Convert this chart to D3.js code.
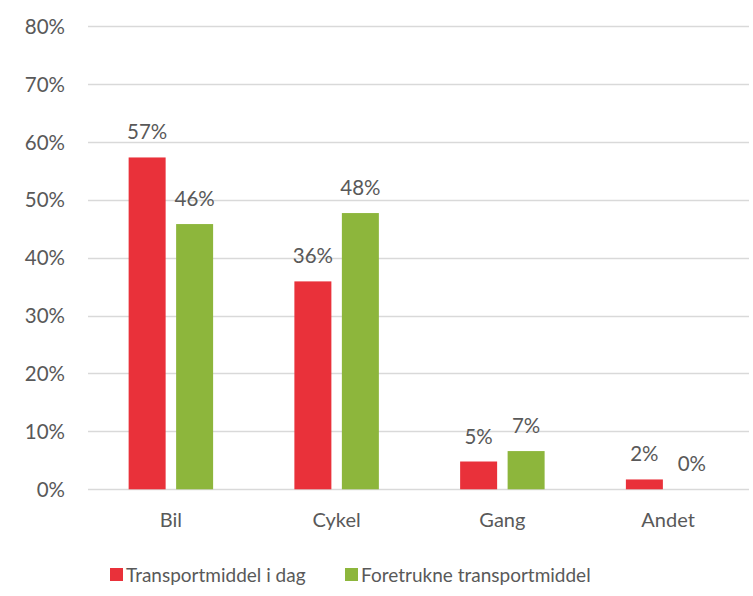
<!DOCTYPE html>
<html><head><meta charset="utf-8">
<script src="https://cdn.jsdelivr.net/npm/d3@7"></script>
<style>
html,body{margin:0;padding:0;background:#fff;}
text{font-family:Lato,"Open Sans",sans-serif;fill:#595959;}
</style></head>
<body>
<svg id="chart" width="753" height="596"></svg>
<script>
const categories = ["Bil", "Cykel", "Gang", "Andet"];
const seriesNames = ["Transportmiddel i dag", "Foretrukne transportmiddel"];
const todayValues = [0.573, 0.359, 0.048, 0.017];
const preferredValues = [0.458, 0.477, 0.066, 0.0];
const todayLabels = ["57%", "36%", "5%", "2%"];
const preferredLabels = ["46%", "48%", "7%", "0%"];
const yTicks = [0, 0.1, 0.2, 0.3, 0.4, 0.5, 0.6, 0.7, 0.8];
const colors = ["#E9313A", "#8DB63C"];

const svg = d3.select("#chart");
const y = d3.scaleLinear().domain([0, 0.8]).range([489.3, 26]);
const x = d3.scaleBand().domain(categories).range([88, 751]).padding(0);
const bw = x.bandwidth();
const barW = bw * 0.2232;
const gap = bw * 0.0633;

// gridlines
svg.append("g").selectAll("line").data(yTicks).join("line")
  .attr("x1", 88).attr("x2", 749)
  .attr("y1", d => Math.round(y(d)) + 0.5).attr("y2", d => Math.round(y(d)) + 0.5)
  .attr("stroke", "#d9d9d9").attr("stroke-width", 1.4);

// y axis labels
const yAxis = d3.axisLeft(y).tickValues(yTicks).tickFormat(d3.format(".0%")).tickSize(0).tickPadding(0);
const gy = svg.append("g").attr("transform", "translate(65,0)").call(yAxis);
gy.select(".domain").remove();
gy.selectAll("text").attr("font-size", 20.5).attr("fill", "#595959").style("font-family", "Lato,'Open Sans',sans-serif").attr("dy", "0.35em");

// x axis labels
const xAxis = d3.axisBottom(x).tickSize(0).tickPadding(0);
const gx = svg.append("g").attr("transform", "translate(0,520)").call(xAxis);
gx.select(".domain").remove();
gx.selectAll("text").attr("font-size", 20).attr("fill", "#595959").style("font-family", "Lato,'Open Sans',sans-serif").attr("dy", "0.35em");

const series = [
  {vals: todayValues, labels: todayLabels, off: -gap/2 - barW, color: colors[0]},
  {vals: preferredValues, labels: preferredLabels, off: gap/2, color: colors[1]}
];
series.forEach(s => {
  const g = svg.append("g");
  g.selectAll("rect").data(categories).join("rect")
    .attr("x", d => x(d) + bw/2 + s.off)
    .attr("y", (d,i) => y(s.vals[i]))
    .attr("width", barW)
    .attr("height", (d,i) => y(0) - y(s.vals[i]))
    .attr("fill", s.color);
  g.selectAll("text").data(categories).join("text")
    .attr("x", d => x(d) + bw/2 + s.off + barW/2)
    .attr("y", (d,i) => y(s.vals[i]) - 18)
    .attr("text-anchor", "middle")
    .attr("font-size", 20.5)
    .text((d,i) => s.labels[i]);
});

// legend
const legendItems = [{name: seriesNames[0], color: colors[0], x: 110}, {name: seriesNames[1], color: colors[1], x: 345}];
const lg = svg.append("g");
legendItems.forEach(it => {
  lg.append("rect").attr("x", it.x).attr("y", 568).attr("width", 13).attr("height", 13).attr("fill", it.color);
  lg.append("text").attr("x", it.x + 16).attr("y", 575).attr("dy", "0.35em").attr("font-size", 19).text(it.name);
});
</script>
</body></html>
